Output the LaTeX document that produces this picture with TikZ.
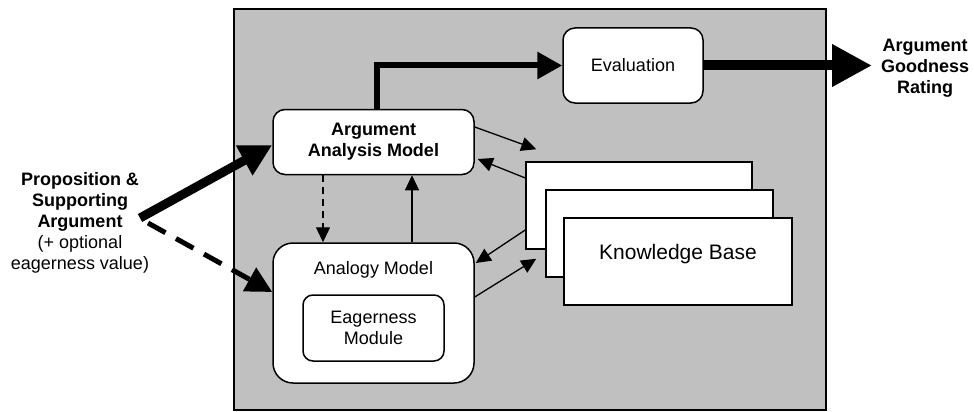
\documentclass[tikz,border=0pt]{standalone}
\usepackage{fontspec}
\setmainfont{Liberation Sans}
\usepackage{xcolor}
\usetikzlibrary{arrows.meta}

\definecolor{panelgray}{HTML}{C0C0C0}

\begin{document}
\begin{tikzpicture}[x=1pt, y=-1pt,
    modbox/.style={rectangle, draw, line width=1.5pt, fill=white, rounded corners=12pt, inner sep=0pt, align=center},
    kbbox/.style={rectangle, draw, line width=1.5pt, fill=white, minimum width=227pt, minimum height=87pt, inner sep=0pt},
    lbl/.style={align=center, font=\fontsize{18}{21}\selectfont},
    blbl/.style={align=center, font=\fontsize{18}{21}\selectfont\bfseries},
    thinarr/.style={-{Triangle[length=15pt, width=14pt]}, line width=1.3pt},
    dasharr/.style={-{Triangle[length=15pt, width=14pt]}, line width=1.3pt, dash pattern=on 7pt off 5pt}]

    \useasboundingbox (0,0) rectangle (974,412);

    % gray panel
    \node[draw, fill=panelgray, line width=1.5pt, minimum width=592pt, minimum height=401pt, inner sep=0pt] (panel) at (530,209.5) {};

    \node[modbox, blbl, minimum width=201pt, minimum height=65pt] (aam) at (373.5,142) {Argument\\Analysis Model};
    \node[modbox, rounded corners=20pt, minimum width=201pt, minimum height=140pt] (am) at (373.5,313) {};
    \node[lbl] (amtxt) at (373.5,270) {Analogy Model};
    \node[modbox, lbl, rounded corners=10pt, minimum width=141pt, minimum height=66pt] (eager) at (373.5,328) {Eagerness\\Module};
    \node[modbox, lbl, minimum width=140pt, minimum height=75pt] (eval) at (633,65.5) {Evaluation};

    % knowledge base stack
    \node[kbbox, minimum width=226pt] (kb1) at (639,205.5) {};
    \node[kbbox] (kb2) at (659.5,233.5) {};
    \node[kbbox, minimum width=228pt] (kb3) at (678,261.5) {};
    \node[font=\fontsize{21}{25}\selectfont] (kbtxt) at (678,254) {Knowledge Base};

    % outside labels
    \node[lbl] (inlbl) at (80,222.5) {\textbf{Proposition \&}\\\textbf{Supporting}\\\textbf{Argument}\\(+ optional\\eagerness value)};
    \node[blbl] (outlbl) at (925,68) {Argument\\Goodness\\Rating};

    \coordinate (insrc) at (140,218);
    \coordinate (dashsrc) at (148,223);
    \coordinate (outtip) at (872,65.5);

    % big arrows
    \draw[-{Triangle[length=32pt, width=32pt]}, line width=9pt] (insrc) -- ([yshift=-3pt]aam.west);
    \draw[-{Triangle[length=26pt, width=26pt]}, line width=5pt, dash pattern=on 20pt off 12pt] (dashsrc) -- ([yshift=21pt]am.west);
    \draw[-{Triangle[length=25pt, width=26pt]}, line width=6pt] ([xshift=3.5pt]aam.north) |- (eval.west);
    \draw[-{Triangle[length=40pt, width=40pt]}, line width=10pt] (eval.east) -- (outtip);

    % model links
    \draw[dasharr] ([xshift=-50.5pt]aam.south) -- ([xshift=-50.5pt]am.north);
    \draw[thinarr] ([xshift=38.5pt]am.north) -- ([xshift=38.5pt]aam.south);
    \draw[thinarr] ([yshift=15pt]aam.east) -- ([shift={(11pt,12pt)}]kb1.north west);
    \draw[thinarr] ([yshift=27.5pt]kb1.west) -- ([shift={(3pt,-17pt)}]aam.east);
    \draw[thinarr] ([yshift=-24.5pt]kb1.west) -- ([shift={(1pt,50pt)}]am.east);
    \draw[thinarr] ([yshift=16pt]am.east) -- ([shift={(-9pt,19pt)}]kb2.south west);
\end{tikzpicture}
\end{document}
